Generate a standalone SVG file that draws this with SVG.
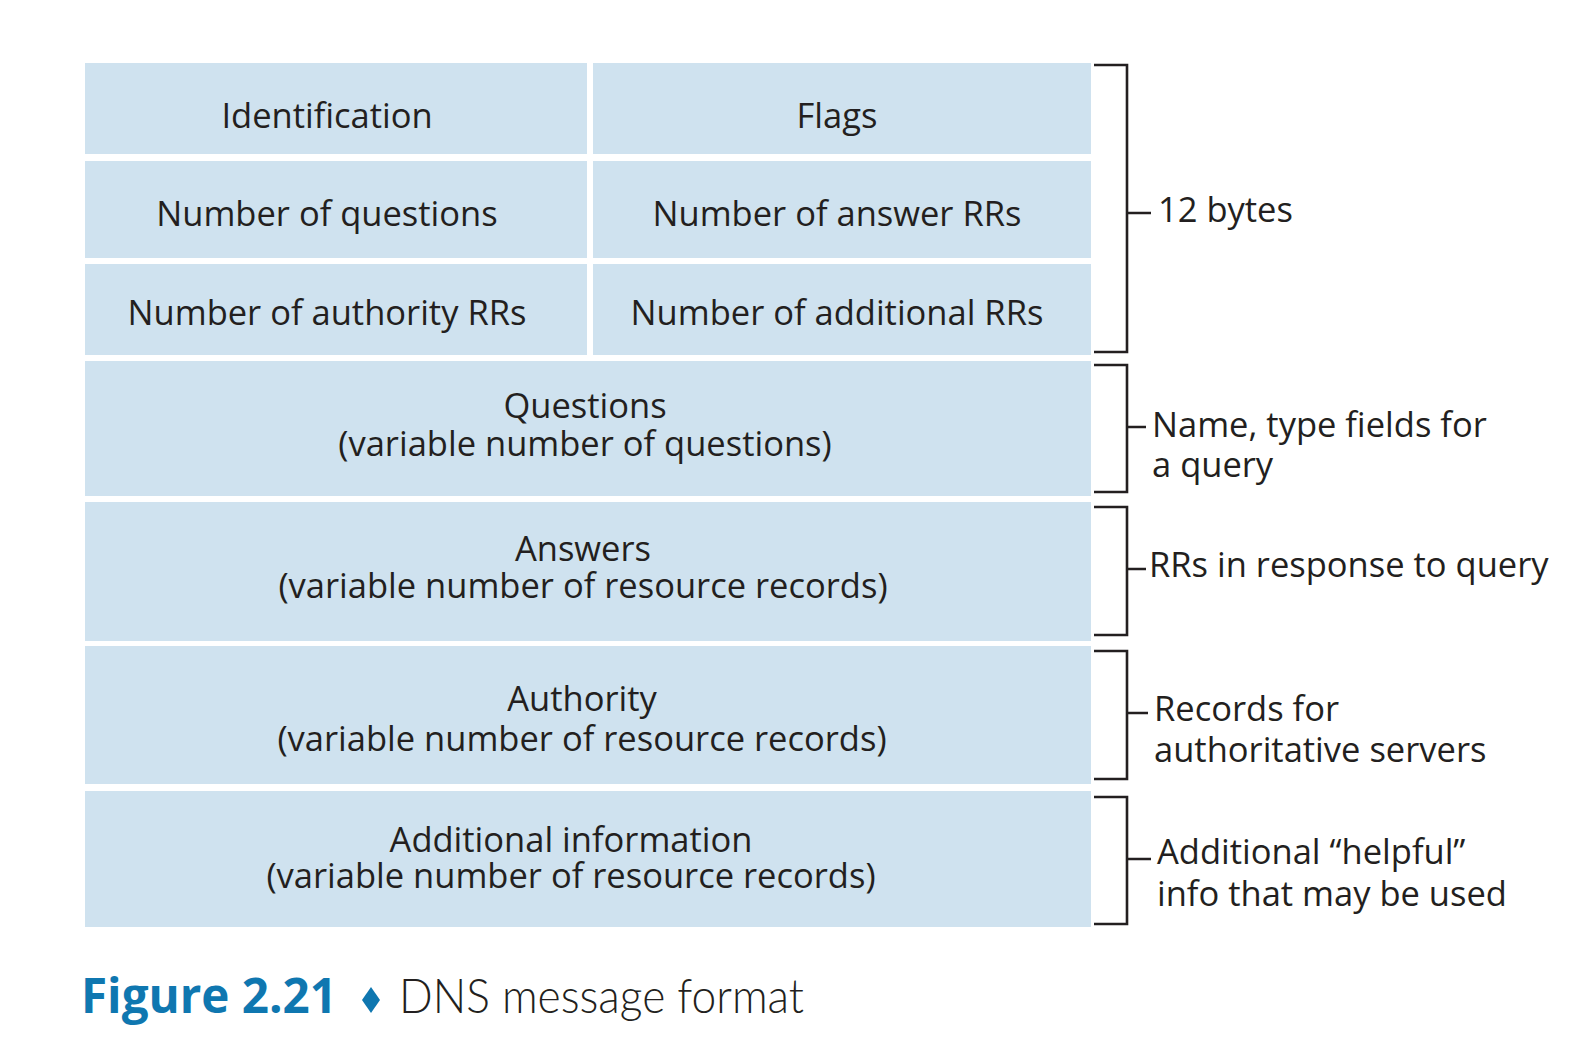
<svg xmlns="http://www.w3.org/2000/svg" width="1592" height="1044" viewBox="0 0 1592 1044">
<style>
.cell{fill:#cfe2ef;}
.t{font-family:"Open Sans","Noto Sans","DejaVu Sans",sans-serif;font-size:34.5px;fill:#231f20;text-anchor:middle;}
.s{font-family:"Open Sans","Noto Sans","DejaVu Sans",sans-serif;font-size:34.5px;fill:#231f20;}
.br{fill:none;stroke:#231f20;stroke-width:2.6;}
.cap1{font-family:"Open Sans","Liberation Sans",sans-serif;font-weight:bold;font-size:48px;fill:#0f77b0;}
.cap2{font-family:"Lato","Liberation Sans",sans-serif;font-weight:300;font-size:48px;fill:#231f20;}
</style>
<rect width="1592" height="1044" fill="#ffffff"/>
<g id="identification"><rect class="cell" x="85" y="63" width="502" height="91"/><text class="t" x="327" y="128">Identification</text></g>
<g id="flags"><rect class="cell" x="593" y="63" width="498" height="91"/><text class="t" x="837" y="128">Flags</text></g>
<g id="num-questions"><rect class="cell" x="85" y="161" width="502" height="97"/><text class="t" x="327" y="225.5">Number of questions</text></g>
<g id="num-answer-rrs"><rect class="cell" x="593" y="161" width="498" height="97"/><text class="t" x="837" y="225.5">Number of answer RRs</text></g>
<g id="num-authority-rrs"><rect class="cell" x="85" y="264" width="502" height="91"/><text class="t" x="327" y="325">Number of authority RRs</text></g>
<g id="num-additional-rrs"><rect class="cell" x="593" y="264" width="498" height="91"/><text class="t" x="837" y="325">Number of additional RRs</text></g>
<g id="questions"><rect class="cell" x="85" y="361" width="1006" height="135"/><text class="t" x="585" y="418">Questions</text><text class="t" x="585" y="456">(variable number of questions)</text></g>
<g id="answers"><rect class="cell" x="85" y="502" width="1006" height="139"/><text class="t" x="583" y="560.5">Answers</text><text class="t" x="583" y="598">(variable number of resource records)</text></g>
<g id="authority"><rect class="cell" x="85" y="646" width="1006" height="138"/><text class="t" x="582" y="711">Authority</text><text class="t" x="582" y="751">(variable number of resource records)</text></g>
<g id="additional"><rect class="cell" x="85" y="791" width="1006" height="136"/><text class="t" x="571" y="852">Additional information</text><text class="t" x="571" y="888">(variable number of resource records)</text></g>
<g id="connectors">
<path class="br" d="M1094 65 H1127 V352 H1094 M1127 213 H1151"/>
<path class="br" d="M1094 365 H1127 V492 H1094 M1127 427 H1146"/>
<path class="br" d="M1094 507 H1127 V635 H1094 M1127 569 H1146"/>
<path class="br" d="M1094 651 H1127 V779 H1094 M1127 713 H1148"/>
<path class="br" d="M1094 797 H1127 V924 H1094 M1127 859 H1151"/>
</g>
<g id="label-12bytes"><text class="s" x="1158" y="222">12 bytes</text></g>
<g id="label-query"><text class="s" x="1152" y="437">Name, type fields for</text><text class="s" x="1152" y="477">a query</text></g>
<g id="label-response"><text class="s" x="1149" y="577">RRs in response to query</text></g>
<g id="label-records"><text class="s" x="1154" y="721">Records for</text><text class="s" x="1154" y="761.5">authoritative servers</text></g>
<g id="label-additional"><text class="s" x="1157" y="864">Additional “helpful”</text><text class="s" x="1157" y="905.5">info that may be used</text></g>
<g id="caption">
<text class="cap1" x="81" y="1013" textLength="256" lengthAdjust="spacingAndGlyphs">Figure 2.21</text>
<polygon points="371,987 380,1000 371,1013 362,1000" fill="#0f77b0"/>
<text class="cap2" x="399" y="1013" textLength="405" lengthAdjust="spacingAndGlyphs">DNS message format</text>
</g>
</svg>
